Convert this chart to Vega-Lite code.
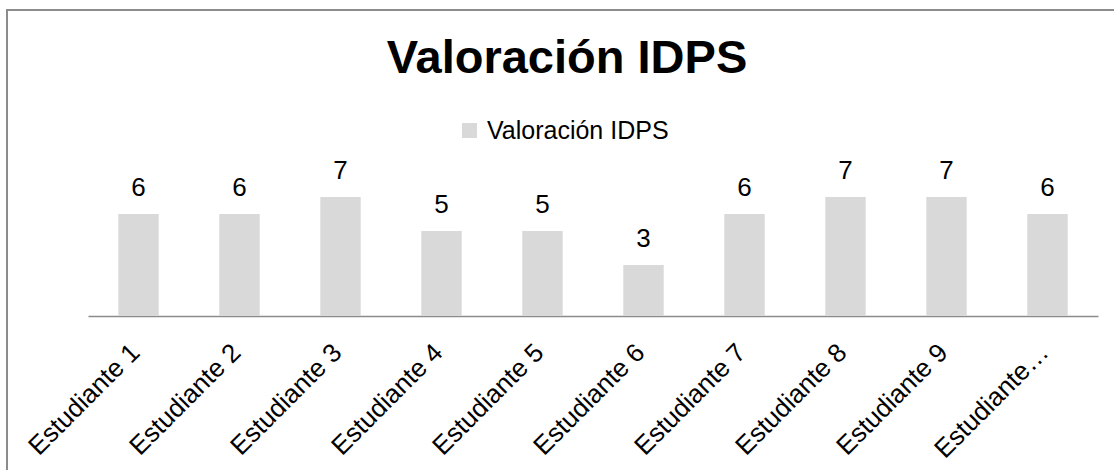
{
  "$schema": "https://vega.github.io/schema/vega-lite/v6.json",
  "autosize": "none",
  "padding": {"left": 7, "top": 10, "right": 0, "bottom": 0},
  "width": 1120,
  "height": 470,
  "background": "white",
  "config": {
    "font": "Liberation Sans",
    "view": {"stroke": "#8c8c8c", "strokeWidth": 2}
  },
  "title": {
    "text": "Valoración IDPS",
    "fontSize": 47,
    "fontWeight": "bold",
    "color": "#000000",
    "anchor": "middle",
    "frame": "group",
    "baseline": "alphabetic",
    "offset": -110,
    "font": "Liberation Sans"
  },
  "data": {
    "values": [
      {"estudiante": "Estudiante 1", "valor": 6, "serie": "Valoración IDPS"},
      {"estudiante": "Estudiante 2", "valor": 6, "serie": "Valoración IDPS"},
      {"estudiante": "Estudiante 3", "valor": 7, "serie": "Valoración IDPS"},
      {"estudiante": "Estudiante 4", "valor": 5, "serie": "Valoración IDPS"},
      {"estudiante": "Estudiante 5", "valor": 5, "serie": "Valoración IDPS"},
      {"estudiante": "Estudiante 6", "valor": 3, "serie": "Valoración IDPS"},
      {"estudiante": "Estudiante 7", "valor": 6, "serie": "Valoración IDPS"},
      {"estudiante": "Estudiante 8", "valor": 7, "serie": "Valoración IDPS"},
      {"estudiante": "Estudiante 9", "valor": 7, "serie": "Valoración IDPS"},
      {"estudiante": "Estudiante 10", "valor": 6, "serie": "Valoración IDPS"}
    ]
  },
  "encoding": {
    "x": {
      "field": "estudiante",
      "type": "nominal",
      "sort": null,
      "scale": {"range": [81, 1091], "paddingInner": 0.6, "paddingOuter": 0.3},
      "axis": {
        "title": null,
        "domain": true,
        "domainColor": "#8c8c8c",
        "domainWidth": 1.5,
        "ticks": false,
        "tickSize": 0,
        "grid": false,
        "labelAngle": -45,
        "labelAlign": "right",
        "labelBaseline": "middle",
        "labelFontSize": 26,
        "labelFont": "Liberation Sans",
        "labelColor": "#000000",
        "labelPadding": 32,
        "labelOffset": -3,
        "labelLimit": 152,
        "labelOverlap": false,
        "labelBound": false,
        "offset": -164
      }
    },
    "y": {
      "field": "valor",
      "type": "quantitative",
      "scale": {"domain": [0, 18], "range": [306, 0]},
      "axis": null
    }
  },
  "layer": [
    {
      "mark": {"type": "bar"},
      "encoding": {
        "color": {
          "field": "serie",
          "type": "nominal",
          "scale": {"range": ["#d9d9d9"]},
          "legend": {
            "orient": "none",
            "legendX": 450,
            "legendY": 108,
            "title": null,
            "direction": "horizontal",
            "symbolType": "square",
            "symbolSize": 225,
            "symbolStrokeWidth": 0,
            "labelFontSize": 25,
            "labelFont": "Liberation Sans",
            "labelColor": "#000000",
            "labelOffset": 5,
            "labelLimit": 400,
            "padding": 0
          }
        }
      }
    },
    {
      "mark": {"type": "text", "baseline": "alphabetic", "dy": -18, "fontSize": 26, "color": "#000000", "font": "Liberation Sans"},
      "encoding": {"text": {"field": "valor", "type": "quantitative"}}
    }
  ]
}
